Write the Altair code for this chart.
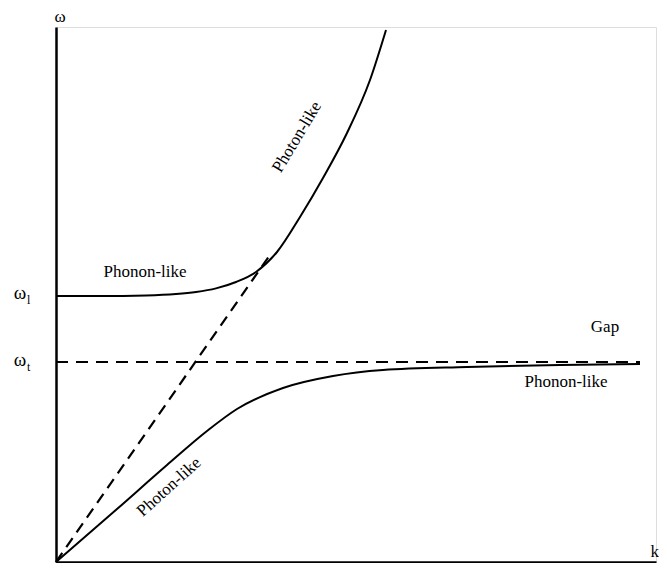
import altair as alt
import pandas as pd

# Upper polariton branch (k, omega) in units where omega_t = 1
upper_k = [0.0, 0.22, 0.45, 0.6, 0.7, 0.8, 0.9, 1.0, 1.105, 1.22, 1.335, 1.455, 1.57, 1.65]
upper_w = [1.33, 1.33, 1.333, 1.34, 1.35, 1.368, 1.4, 1.45, 1.55, 1.725, 1.92, 2.145, 2.41, 2.66]

# Lower polariton branch
lower_k = [0.0, 0.305, 0.555, 0.755, 0.905, 1.135, 1.385, 1.635, 2.055, 2.52, 2.92]
lower_w = [0.0, 0.265, 0.485, 0.655, 0.765, 0.87, 0.93, 0.96, 0.975, 0.985, 0.99]

# Uncoupled photon line (dashed) and omega_t line (dashed)
light_k = [0.0, 1.08]
light_w = [0.0, 1.55]
omega_t = 1.0
omega_l = 1.33
wt_k = [0.0, 2.92]

# Curve labels
label_text = ["Phonon-like", "Photon-like", "Gap", "Phonon-like", "Photon-like"]
label_k = [0.445, 1.205, 2.745, 2.55, 0.565]
label_w = [1.45, 2.125, 1.175, 0.9, 0.375]
label_angle = [0, 301, 0, 0, 318]

# Axis symbols (baseline positions)
sym_text = ["ω", "ω", "k"]
sym_k = [-0.18, -0.18, 3.015]
sym_w = [1.315, 0.98, 0.025]
top_sym_text = ["ω"]
top_sym_k = [0.02]
top_sym_w = [2.765]
sub_text = ["l", "t"]
sub_k = [-0.137, -0.137]
sub_w = [1.29, 0.955]

FONT = "Liberation Serif"
axis_style = dict(domain=True, ticks=False, labels=False, grid=False, title=None,
                  domainColor="black", domainWidth=2.5)


def X(field):
    return alt.X(f"{field}:Q", scale=alt.Scale(domain=[0, 3.0], nice=False, zero=False),
                 axis=alt.Axis(**axis_style))


def Y(field):
    return alt.Y(f"{field}:Q", scale=alt.Scale(domain=[0, 2.675], nice=False, zero=False),
                 axis=alt.Axis(**axis_style))


upper = pd.DataFrame({"k": upper_k, "w": upper_w, "o": range(len(upper_k))})
lower = pd.DataFrame({"k": lower_k, "w": lower_w, "o": range(len(lower_k))})
light = pd.DataFrame({"k": light_k, "w": light_w})
wt = pd.DataFrame({"k": wt_k, "w": [omega_t] * len(wt_k)})
labels = pd.DataFrame({"t": label_text, "k": label_k, "w": label_w, "a": label_angle})
syms = pd.DataFrame({"t": sym_text, "k": sym_k, "w": sym_w,
                     "al": ["center", "center", "right"]})
top_syms = pd.DataFrame({"t": top_sym_text, "k": top_sym_k, "w": top_sym_w})
subs = pd.DataFrame({"t": sub_text, "k": sub_k, "w": sub_w})

up_line = alt.Chart(upper).mark_line(color="black", strokeWidth=2, interpolate="monotone").encode(
    x=X("k"), y=Y("w"), order="o:Q")
low_line = alt.Chart(lower).mark_line(color="black", strokeWidth=2, interpolate="monotone").encode(
    x=X("k"), y=Y("w"), order="o:Q")
light_line = alt.Chart(light).mark_line(color="black", strokeWidth=2.2, strokeDash=[11, 7]).encode(
    x=X("k"), y=Y("w"))
wt_line = alt.Chart(wt).mark_line(color="black", strokeWidth=1.8, strokeDash=[12, 8]).encode(
    x=X("k"), y=Y("w"))

label_layer = alt.Chart(labels).mark_text(font=FONT, fontSize=17, color="black",
                                          align="center", baseline="middle").encode(
    x=X("k"), y=Y("w"), text="t:N", angle=alt.Angle("a:Q", scale=None))
sym_layer = alt.Chart(syms[syms.al == "center"]).mark_text(
    font=FONT, fontSize=19, color="black", align="center", baseline="alphabetic").encode(
    x=X("k"), y=Y("w"), text="t:N")
k_layer = alt.Chart(syms[syms.al == "right"]).mark_text(
    font=FONT, fontSize=17, color="black", align="right", baseline="alphabetic").encode(
    x=X("k"), y=Y("w"), text="t:N")
top_sym_layer = alt.Chart(top_syms).mark_text(font=FONT, fontSize=17, color="black",
                                              align="center", baseline="top").encode(
    x=X("k"), y=Y("w"), text="t:N")
sub_layer = alt.Chart(subs).mark_text(font=FONT, fontSize=12, color="black",
                                      align="center", baseline="alphabetic").encode(
    x=X("k"), y=Y("w"), text="t:N")

chart = alt.layer(wt_line, light_line, up_line, low_line, label_layer, sym_layer, k_layer,
                  top_sym_layer, sub_layer).properties(
    width=600, height=535,
    autosize=alt.AutoSizeParams(type="none"),
    padding={"left": 48, "top": 19, "right": 3, "bottom": 1},
).configure_view(stroke=None).configure(background="white")

chart.save("out.html", embed_options={"renderer": "svg", "actions": False})
